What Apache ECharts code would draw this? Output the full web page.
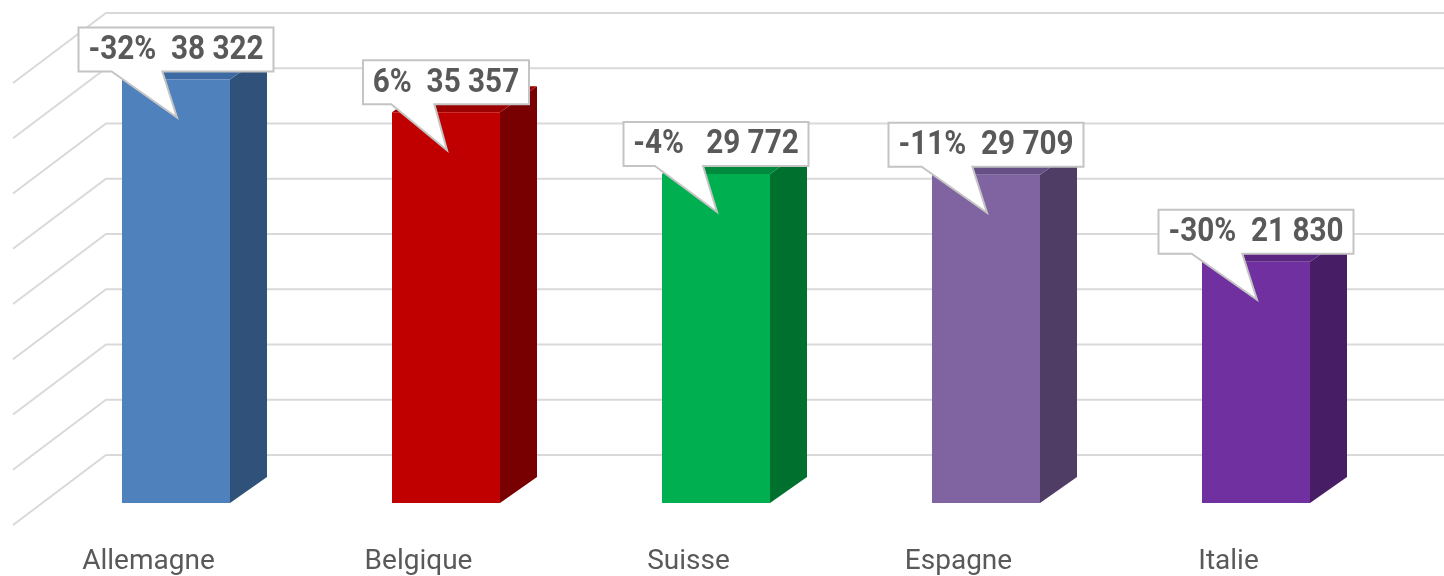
<!DOCTYPE html>
<html>
<head>
<meta charset="utf-8">
<title>Chart</title>
<script src="https://cdn.jsdelivr.net/npm/echarts@6/dist/echarts.min.js"></script>
<style>
  html, body { margin: 0; padding: 0; background: #fff; }
  #chart { width: 1444px; height: 576px; }
</style>
</head>
<body>
<div id="chart"></div>
<script>
const categories = ['Allemagne', 'Belgique', 'Suisse', 'Espagne', 'Italie']
const values = [38322, 35357, 29772, 29709, 21830]
const changes = ['-32%', '6%', '-4% ', '-11%', '-30%']
const gridTicks = [0, 5000, 10000, 15000, 20000, 25000, 30000, 35000, 40000]

// front / side / top face of each 3d column
const frontColors = ['#4f81bd', '#c00000', '#00b050', '#8064a2', '#7030a0']
const sideColors = ['#30527a', '#790000', '#00702f', '#4f3d66', '#471e66']
const topColors = ['#3d6aa3', '#9c0000', '#008a3e', '#664f84', '#5a2682']

const labelFont = 'bold 33px Roboto'
const labelSqueeze = 0.9 // narrower, like a condensed face
const measure = document.createElement('canvas').getContext('2d')
measure.font = labelFont

function fmt (v) {
  return String(v).replace(/\B(?=(\d{3})+(?!\d))/g, ' ')
}

// depth of the columns and of the back wall (perspective)
const barDepth = [37, -26]
const wallOffset = -48
const wallLeft = 106
const floorLeft = 13

function renderGrid (params, api) {
  const y = api.coord([0, api.value(1)])[1] + wallOffset
  return {
    type: 'polyline',
    shape: { points: [[floorLeft, y + 70], [wallLeft, y], [1444, y]] },
    style: { stroke: '#d9d9d9', lineWidth: 2, fill: null }
  }
}

function renderBar (params, api) {
  const i = params.dataIndex
  const top = api.coord([api.value(0), api.value(1)])
  const base = api.coord([api.value(0), 0])
  const w = api.size([1, 0])[0] * 0.4
  const x0 = top[0] - w / 2
  const x1 = top[0] + w / 2
  const dx = barDepth[0]
  const dy = barDepth[1]
  return {
    type: 'group',
    children: [
      {
        type: 'polygon',
        shape: { points: [[x1, top[1]], [x1 + dx, top[1] + dy], [x1 + dx, base[1] + dy], [x1, base[1]]] },
        style: { fill: sideColors[i] }
      },
      {
        type: 'polygon',
        shape: { points: [[x0, top[1]], [x0 + dx, top[1] + dy], [x1 + dx, top[1] + dy], [x1, top[1]]] },
        style: { fill: topColors[i] }
      },
      {
        type: 'rect',
        shape: { x: x0, y: top[1], width: w, height: base[1] - top[1] },
        style: { fill: frontColors[i] }
      }
    ]
  }
}

function renderLabel (params, api) {
  const i = params.dataIndex
  const top = api.coord([api.value(0), api.value(1)])
  const text = changes[i] + '  ' + fmt(values[i])
  const bw = Math.round(measure.measureText(text).width * labelSqueeze) + 20
  const bh = 44
  const L = top[0] - bw / 2
  const R = L + bw
  const B = top[1] - 8
  const T = B - bh
  return {
    type: 'group',
    children: [
      {
        type: 'polygon',
        shape: {
          points: [[L, T], [R, T], [R, B], [L + bw * 0.43, B], [top[0] + 1, top[1] + 38], [L + bw * 0.17, B], [L, B]]
        },
        style: { fill: '#fff', stroke: '#c4c4c4', lineWidth: 2 }
      },
      {
        type: 'text',
        x: top[0],
        y: T + bh / 2 + 1,
        scaleX: labelSqueeze,
        style: {
          text: text,
          x: 0,
          y: 0,
          align: 'center',
          verticalAlign: 'middle',
          font: labelFont,
          fill: '#595959'
        }
      }
    ]
  }
}

const chart = echarts.init(document.getElementById('chart'))
chart.setOption({
  animation: false,
  grid: { left: 41, right: 53, top: 61, bottom: 73 },
  xAxis: {
    type: 'category',
    data: categories,
    axisLine: { show: false },
    axisTick: { show: false },
    axisLabel: {
      margin: 45,
      fontSize: 28,
      fontFamily: 'Roboto',
      color: '#595959',
      padding: [0, 55, 0, 0]
    }
  },
  yAxis: {
    type: 'value',
    min: 0,
    max: 40000,
    interval: 5000,
    show: false
  },
  series: [
    {
      type: 'custom',
      silent: true,
      clip: false,
      z: 1,
      renderItem: renderGrid,
      data: gridTicks.map(v => [0, v])
    },
    {
      type: 'custom',
      silent: true,
      clip: false,
      z: 2,
      renderItem: renderBar,
      data: values.map((v, i) => [i, v])
    },
    {
      type: 'custom',
      silent: true,
      clip: false,
      z: 3,
      renderItem: renderLabel,
      data: values.map((v, i) => [i, v])
    }
  ]
})
</script>
</body>
</html>
